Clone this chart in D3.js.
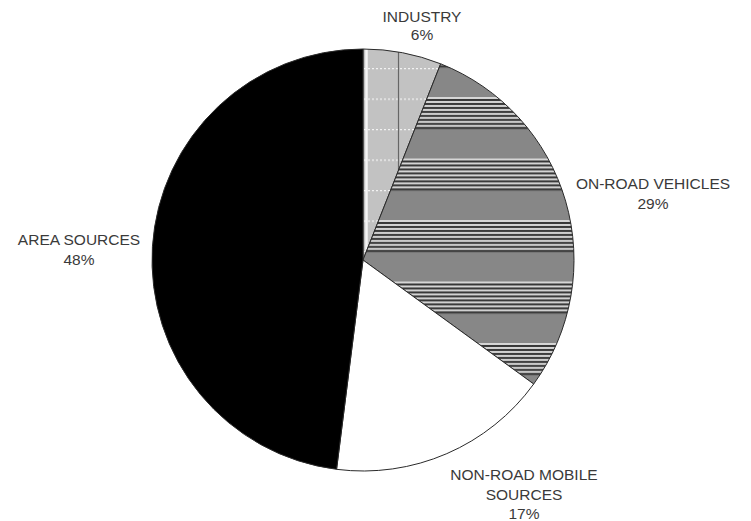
<!DOCTYPE html>
<html>
<head>
<meta charset="utf-8">
<script src="https://cdn.jsdelivr.net/npm/d3@7/dist/d3.min.js"></script>
<style>
  html, body { margin: 0; padding: 0; background: #fff; }
  svg { display: block; }
  text { font-family: "Liberation Sans", Arial, sans-serif; font-size: 15.5px; fill: #3a3a3a; }
</style>
</head>
<body>
<svg id="chart" width="751" height="521"></svg>
<script>
// Emission source shares, clockwise from 12 o'clock
const categories = ["INDUSTRY", "ON-ROAD VEHICLES", "NON-ROAD MOBILE SOURCES", "AREA SOURCES"];
const shares = [6, 29, 17, 48];
const labelLines = [
  ["INDUSTRY", "6%"],
  ["ON-ROAD VEHICLES", "29%"],
  ["NON-ROAD MOBILE", "SOURCES", "17%"],
  ["AREA SOURCES", "48%"]
];

// Layout
const width = 751, height = 521;
const cx = 363, cy = 260, radius = 211;
const fills = ["url(#industry)", "url(#stripes)", "#ffffff", "#000000"];
const labelAnchors = [
  { x: 422, y: 22, dy: 18 },
  { x: 653, y: 189, dy: 20 },
  { x: 524, y: 480, dy: 19.5 },
  { x: 79,  y: 245, dy: 20 }
];

const svg = d3.select("#chart");
const defs = svg.append("defs");

// Patterns are in the pie group's coordinates (origin at the pie centre)

// Light grey fill with dotted rules and a vertical divider
const ind = defs.append("pattern")
  .attr("id", "industry")
  .attr("patternUnits", "userSpaceOnUse")
  .attr("x", -cx).attr("y", 68 - cy)
  .attr("width", width).attr("height", 30.5);
ind.append("rect").attr("width", width).attr("height", 30.5).attr("fill", "#c2c2c2");
ind.append("line").attr("x1", 0).attr("x2", width).attr("y1", 0.5).attr("y2", 0.5)
  .attr("stroke", "#f2f2f2").attr("stroke-width", 1.5).attr("stroke-dasharray", "2,2");
ind.append("line").attr("x1", 398.5).attr("x2", 398.5).attr("y1", 0).attr("y2", 30.5)
  .attr("stroke", "#666").attr("stroke-width", 1.2);
ind.append("line").attr("x1", cx + 3.5).attr("x2", cx + 3.5).attr("y1", 0).attr("y2", 30.5)
  .attr("stroke", "#f4f4f4").attr("stroke-width", 2.5);

// Mid grey fill with bands of fine horizontal rules
const bandPeriod = 61.5;
const str = defs.append("pattern")
  .attr("id", "stripes")
  .attr("patternUnits", "userSpaceOnUse")
  .attr("x", 0).attr("y", 97 - cy)
  .attr("width", 20).attr("height", bandPeriod);
str.append("rect").attr("width", 20).attr("height", bandPeriod).attr("fill", "#878787");
d3.range(8).forEach(i => {
  str.append("rect").attr("x", 0).attr("y", i * 4).attr("width", 20).attr("height", 2).attr("fill", "#d6d6d6");
  str.append("rect").attr("x", 0).attr("y", i * 4 + 2).attr("width", 20).attr("height", 2).attr("fill", "#363636");
});

const pie = d3.pie().sort(null).value(d => d).startAngle(0).endAngle(2 * Math.PI);
const arc = d3.arc().innerRadius(0).outerRadius(radius);

const g = svg.append("g").attr("transform", `translate(${cx},${cy})`);
g.selectAll("path.slice")
  .data(pie(shares))
  .join("path")
  .attr("class", "slice")
  .attr("d", arc)
  .attr("fill", (d, i) => fills[i])
  .attr("stroke", "#2a2a2a")
  .attr("stroke-width", 1);

// Labels
const labels = svg.append("g");
labelLines.forEach((lines, i) => {
  const a = labelAnchors[i];
  const t = labels.append("text")
    .attr("text-anchor", "middle")
    .attr("x", a.x).attr("y", a.y);
  lines.forEach((line, j) => {
    t.append("tspan").attr("x", a.x).attr("y", a.y + j * a.dy).text(line);
  });
});
</script>
</body>
</html>
